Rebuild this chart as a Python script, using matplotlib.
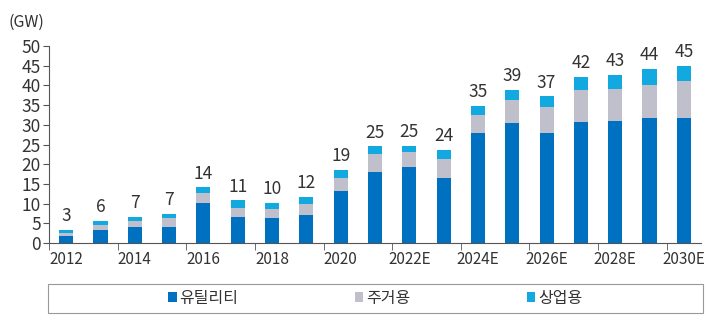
import matplotlib.pyplot as plt
import matplotlib.patches as mpatches
import numpy as np

plt.rcParams["font.family"] = ["Noto Sans CJK KR", "DejaVu Sans"]

UTILITY = "#0070C0"
RESIDENTIAL = "#BFC0CC"
COMMERCIAL = "#12A8E0"
TEXT = "#333333"

years = ["2012", "2013", "2014", "2015", "2016", "2017", "2018", "2019", "2020",
         "2021", "2022E", "2023E", "2024E", "2025E", "2026E", "2027E", "2028E",
         "2029E", "2030E"]
utility = [1.9, 3.4, 4.0, 4.1, 10.2, 6.7, 6.3, 7.0, 13.3,
           18.1, 19.4, 16.4, 27.8, 30.4, 27.8, 30.8, 31.0, 31.6, 31.8]
residential = [0.6, 1.1, 1.6, 2.3, 2.6, 2.2, 2.3, 2.8, 3.2,
               4.5, 3.8, 4.9, 4.7, 5.9, 6.6, 8.0, 8.1, 8.6, 9.2]
commercial = [0.9, 1.2, 1.1, 1.0, 1.3, 1.9, 1.6, 1.9, 2.1,
              1.9, 1.5, 2.3, 2.3, 2.6, 2.8, 3.3, 3.6, 4.0, 4.0]
totals = ["3", "6", "7", "7", "14", "11", "10", "12", "19",
          "25", "25", "24", "35", "39", "37", "42", "43", "44", "45"]

fig = plt.figure(figsize=(7.06, 3.27), dpi=100)
ax = fig.add_axes([49 / 706, 1 - 243 / 327, 652 / 706, 197 / 327])

x = np.arange(len(years))
u = np.array(utility)
r = np.array(residential)
c = np.array(commercial)
w = 0.41

ax.bar(x, u, w, color=UTILITY, label="유틸리티")
ax.bar(x, r, w, bottom=u, color=RESIDENTIAL, label="주거용")
ax.bar(x, c, w, bottom=u + r, color=COMMERCIAL, label="상업용")

for xi, top, lab in zip(x, u + r + c, totals):
    ax.annotate(lab, (xi, top), xytext=(0, 3.5), textcoords="offset points",
                ha="center", va="bottom", fontsize=12.5, color=TEXT)

ax.set_xlim(-0.5, len(years) - 0.5)
ax.set_ylim(0, 50)
ax.set_yticks(range(0, 51, 5))
ax.set_xticks(x[::2])
ax.set_xticklabels(years[::2])
ax.set_xticks(np.arange(-0.5, len(years) - 1, 2), minor=True)
ax.tick_params(axis="x", which="major", length=0, pad=6, labelsize=11, labelcolor=TEXT)
ax.tick_params(axis="x", which="minor", length=5, color="#555555")
ax.tick_params(axis="y", length=4, color="#555555", labelsize=12.5, labelcolor=TEXT, pad=2)

for side in ("top", "right"):
    ax.spines[side].set_visible(False)
for side in ("left", "bottom"):
    ax.spines[side].set_color("#555555")

fig.text(8 / 706, 1 - 22 / 327, "(GW)", fontsize=11.5, color=TEXT, va="center")

# legend box
fig.patches.append(mpatches.Rectangle((48 / 706, 1 - 313 / 327), 655 / 706, 29 / 327,
                                      transform=fig.transFigure, fill=False,
                                      edgecolor="#999999", lw=0.8))
fig.legend(loc="center", bbox_to_anchor=(375 / 706, 1 - 298 / 327), ncol=3,
           frameon=False, fontsize=11.5, handlelength=0.55, handleheight=0.55,
           handletextpad=0.15, columnspacing=7.3, labelcolor=TEXT)

fig.savefig("out.png", dpi=100)
